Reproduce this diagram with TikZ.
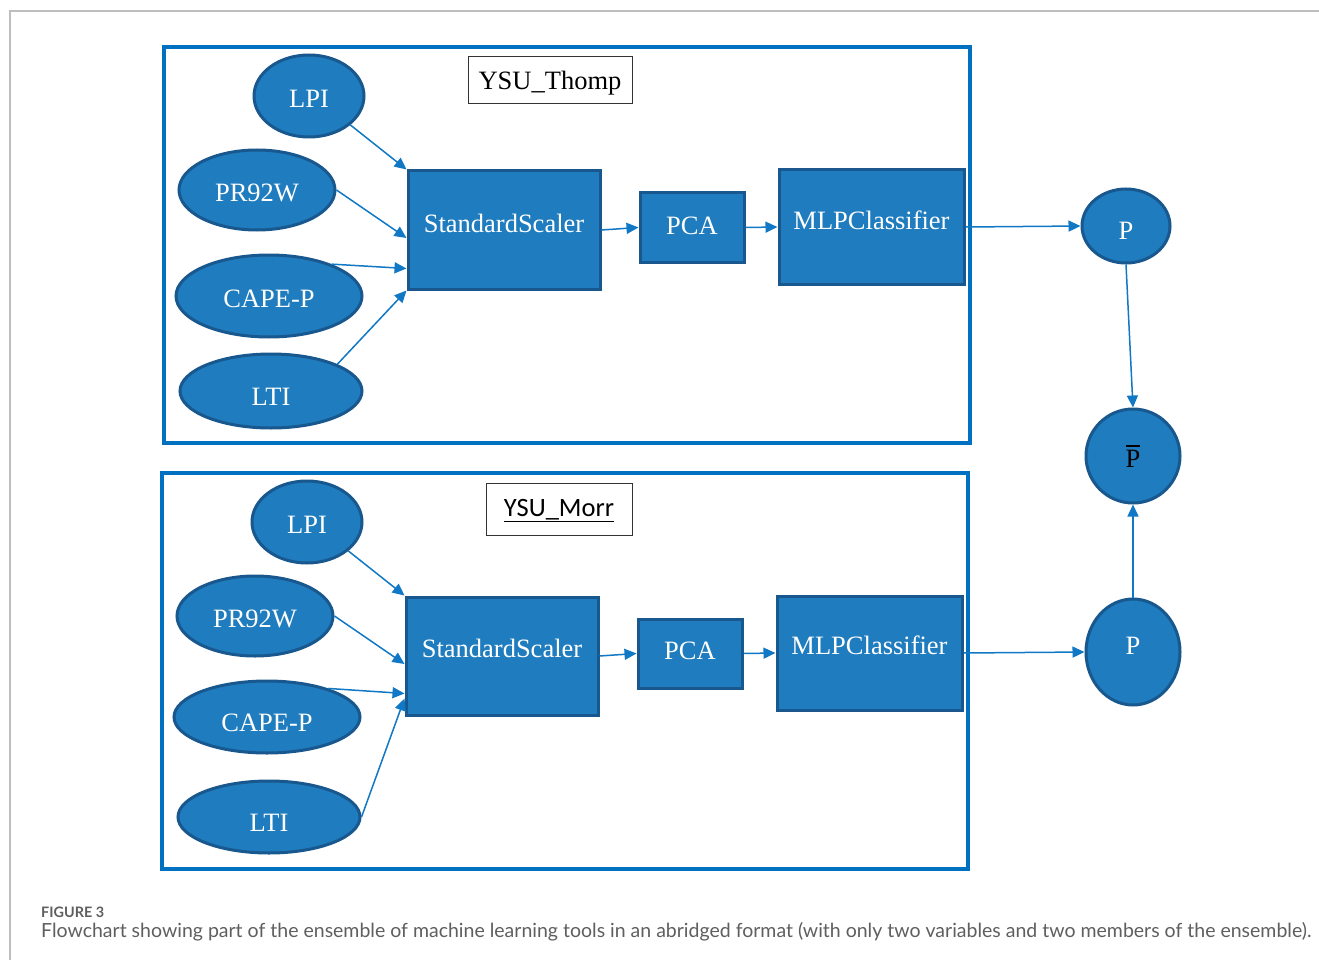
\documentclass[tikz,border=0pt]{standalone}
\usepackage{fontspec}
\setmainfont{Liberation Serif}
\newfontfamily\capfont{Lato}
\newfontfamily\calfont{Carlito}
\usetikzlibrary{shapes.geometric,arrows.meta,calc}
\definecolor{nodefill}{RGB}{31,124,190}
\definecolor{nodeedge}{RGB}{24,88,142}
\definecolor{framebl}{RGB}{0,112,192}
\definecolor{arrbl}{RGB}{16,120,196}
\definecolor{capgray}{RGB}{95,95,95}
\definecolor{rulegray}{RGB}{190,190,190}
\newcommand{\mv}[2]{\raisebox{#1}[0pt][0pt]{#2}}
\newcommand{\barP}{\setbox0\hbox{P}\vbox{\hrule height 2pt width \wd0 \kern 3pt \box0}}
\tikzset{
  txt/.style={font=\fontsize{26.5}{30}\selectfont},
  inp/.style={ellipse, draw=nodeedge, line width=3pt, fill=nodefill, text=white, txt, inner sep=0pt},
  proc/.style={rectangle, draw=nodeedge, line width=3pt, fill=nodefill, text=white, txt, inner sep=0pt},
  outc/.style={ellipse, draw=nodeedge, line width=3pt, fill=nodefill, text=white, txt, inner sep=0pt},
  lab/.style={rectangle, draw=black!80, line width=1pt, fill=white, txt, inner sep=0pt},
  group/.style={draw=framebl, line width=4pt},
  arr/.style={draw=arrbl, line width=1.5pt, -{Triangle[length=12pt,width=11pt]}},
}
\begin{document}
\begin{tikzpicture}[x=1pt,y=-1pt]
\useasboundingbox (0,0) rectangle (1319,960);
\fill[white] (0,0) rectangle (1319,960);
% outer figure rule
\draw[rulegray, line width=1.5pt] (10,960) -- (10,11) -- (1319,11);

% group frames
\draw[group] (164,47) rectangle (970,443);
\draw[group] (162,473) rectangle (968,869);

% ---- top group
\node[lab, minimum width=164pt, minimum height=47pt] (lab1) at (550,80.5) {\mv{-9.3pt}{YSU\_Thomp}};
\node[inp, minimum width=110pt, minimum height=82pt] (lpi1) at (309,96) {\mv{-11.8pt}{LPI}};
\node[inp, minimum width=156pt, minimum height=80pt] (pr1) at (257,190) {\mv{-11.8pt}{PR92W}};
\node[inp, minimum width=186pt, minimum height=82pt] (cp1) at (269,296) {\mv{-11.8pt}{CAPE-P}};
\node[inp, minimum width=182pt, minimum height=74pt] (lti1) at (271,391) {\mv{-14.8pt}{LTI}};
\node[proc, minimum width=192pt, minimum height=118pt] (ss1) at (504,230) {\mv{-2.8pt}{StandardScaler}};
\node[proc, minimum width=104pt, minimum height=69pt] (pca1) at (692,227.5) {\mv{-7.3pt}{PCA}};
\node[proc, minimum width=185pt, minimum height=114pt] (mlp1) at (871.5,227) {\mv{-2.8pt}{MLPClassifier}};
\node[outc, minimum width=88pt, minimum height=74pt] (p1) at (1126,226) {\mv{-13.8pt}{P}};

% ---- bottom group
\node[lab, minimum width=146pt, minimum height=52pt, font=\calfont\fontsize{26.5}{30}\selectfont] (lab2) at (559,509) {\mv{-7.5pt}{\underline{YSU\_Morr}}};
\node[inp, minimum width=110pt, minimum height=82pt] (lpi2) at (307,522) {\mv{-11.8pt}{LPI}};
\node[inp, minimum width=156pt, minimum height=80pt] (pr2) at (255,616) {\mv{-11.8pt}{PR92W}};
\node[inp, minimum width=186pt, minimum height=72pt] (cp2) at (267,717) {\mv{-14.8pt}{CAPE-P}};
\node[inp, minimum width=182pt, minimum height=72pt] (lti2) at (269,817) {\mv{-14.8pt}{LTI}};
\node[proc, minimum width=192pt, minimum height=118pt] (ss2) at (502,656) {\mv{-1.8pt}{StandardScaler}};
\node[proc, minimum width=104pt, minimum height=69pt] (pca2) at (690,653.5) {\mv{-6.3pt}{PCA}};
\node[proc, minimum width=185pt, minimum height=114pt] (mlp2) at (869.5,653) {\mv{-1.8pt}{MLPClassifier}};
\node[outc, minimum width=94pt, minimum height=106pt] (p2) at (1133,652) {\mv{-2.8pt}{P}};

% ---- ensemble mean
\node[outc, minimum width=94pt, minimum height=94pt, text=black] (pbar) at (1133,456) {\barP};

% ---- connectors top
\draw[arr] (lpi1.-35) -- (ss1.north west);
\draw[arr] (pr1.east) -- ($(ss1.west)+(0,8)$);
\draw[arr] (cp1.27) -- ($(ss1.south west)+(0,-22)$);
\draw[arr] (lti1.22) -- (ss1.south west);
\draw[arr] (ss1.east) -- (pca1.west);
\draw[arr] (pca1.east) -- (mlp1.west);
\draw[arr] (mlp1.east) -- (p1.west);
\draw[arr] (p1.south) -- (pbar.north);

% ---- connectors bottom
\draw[arr] (lpi2.-35) -- (ss2.north west);
\draw[arr] (pr2.east) -- ($(ss2.west)+(0,8)$);
\draw[arr] (cp2.25) -- ($(ss2.south west)+(0,-23)$);
\draw[arr] (lti2.east) -- ($(ss2.south west)+(0,-18)$);
\draw[arr] (ss2.east) -- (pca2.west);
\draw[arr] (pca2.east) -- (mlp2.west);
\draw[arr] (mlp2.east) -- (p2.west);
\draw[arr] (p2.north) -- (pbar.south);

% ---- caption
\node[anchor=base west, inner sep=0pt, text=capgray, font=\capfont\bfseries\fontsize{14.4}{17}\selectfont] (figlab) at (41,917) {FIGURE 3};
\node[anchor=base west, inner sep=0pt, text=capgray, font=\capfont\fontsize{19.5}{22}\selectfont] (caption) at (41,937) {Flowchart showing part of the ensemble of machine learning tools in an abridged format (with only two variables and two members of the ensemble).};
\end{tikzpicture}
\end{document}
